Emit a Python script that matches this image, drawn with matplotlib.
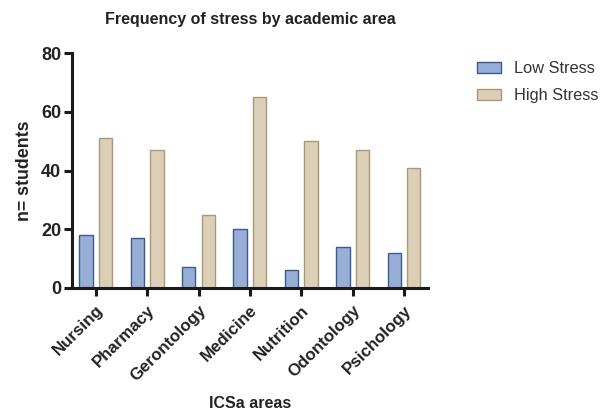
import matplotlib
matplotlib.use("Agg")
import matplotlib.pyplot as plt
import numpy as np

plt.rcParams['font.family'] = ['Liberation Sans', 'DejaVu Sans']

categories = ["Nursing", "Pharmacy", "Gerontology", "Medicine", "Nutrition", "Odontology", "Psichology"]
low_stress = [18, 17, 7, 20, 6, 14, 12]
high_stress = [51, 47, 25, 65, 50, 47, 41]
yticks = [0, 20, 40, 60, 80]

fig = plt.figure(figsize=(6.09, 4.12), dpi=100)
ax = fig.add_axes([0.1177, 0.301, 0.5853, 0.570])

x = np.arange(len(categories))
w = 0.26
off = 0.19
ax.bar(x - off, low_stress, width=w, color="#97aed6", edgecolor="#3d5a8a", linewidth=1.0, label="Low Stress")
ax.bar(x + off, high_stress, width=w, color="#dccfb8", edgecolor="#a8997a", linewidth=1.0, label="High Stress")

ax.set_xlim(-0.47, 6.47)
ax.set_ylim(0, 80)
ax.set_yticks(yticks)
ax.set_xticks(x)
ax.set_xticklabels(categories, rotation=45, ha="right", va="top", rotation_mode="anchor",
                   fontsize=12.2, fontweight="bold", color="#222222")
for lab in ax.get_yticklabels():
    lab.set_fontweight("bold")
    lab.set_fontsize(13)
    lab.set_color("#222222")

for s in ["top", "right"]:
    ax.spines[s].set_visible(False)
for s in ["left", "bottom"]:
    ax.spines[s].set_linewidth(2.2)
    ax.spines[s].set_color("#1a1a1a")
ax.tick_params(axis="both", width=2.2, length=5.5, color="#1a1a1a", pad=2)
ax.tick_params(axis="x", pad=5)

ax.set_ylabel("n= students", fontsize=12.8, fontweight="bold", color="#222222", labelpad=6)
fig.text(250 / 609, 1 - 403 / 412, "ICSa areas", fontsize=11.5, fontweight="bold", color="#222222",
         ha="center", va="center")
ax.set_title("Frequency of stress by academic area", fontsize=11.5, fontweight="bold", color="#222222", pad=21)

leg = ax.legend(loc="upper left", bbox_to_anchor=(477 / 609, 1 - 61 / 412), bbox_transform=fig.transFigure,
                frameon=False, fontsize=11.8, borderpad=0, borderaxespad=0,
                handlelength=1.45, handleheight=0.68, labelspacing=0.73, handletextpad=0.8)
for t in leg.get_texts():
    t.set_color("#333333")

fig.savefig("out.png", dpi=100)
